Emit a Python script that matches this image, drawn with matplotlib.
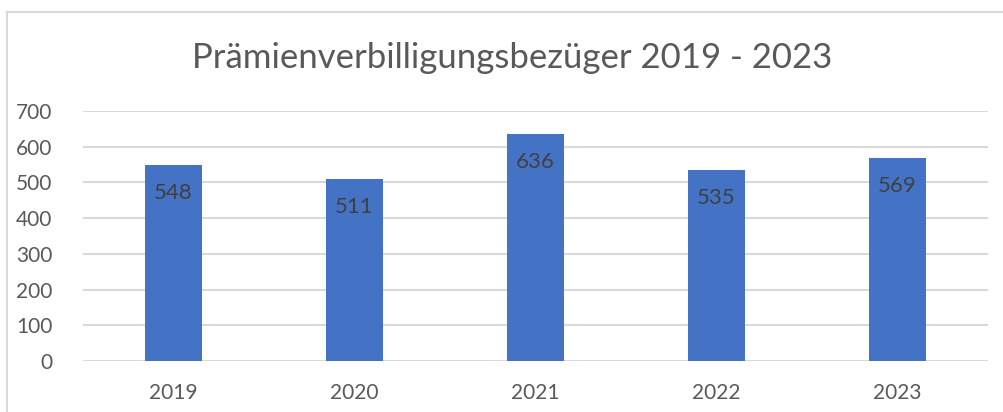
import matplotlib.pyplot as plt
from matplotlib.patches import Rectangle

years = ["2019", "2020", "2021", "2022", "2023"]
counts = [548, 511, 636, 535, 569]
y_ticks = [0, 100, 200, 300, 400, 500, 600, 700]

plt.rcParams['font.family'] = ['Lato', 'DejaVu Sans']

fig = plt.figure(figsize=(10.04, 4.12), dpi=100)
ax = fig.add_axes([83 / 1004, 1 - 361 / 412, 905 / 1004, 250 / 412])

bars = ax.bar(years, counts, width=0.315, color='#4472c4', zorder=3)
for b, v in zip(bars, counts):
    # value label just inside the top of each bar
    ax.annotate(str(v), (b.get_x() + b.get_width() / 2, v),
                xytext=(0, -28), textcoords='offset pixels',
                ha='center', va='center', fontsize=16, color='#404040', zorder=4)

ax.set_xlim(-0.5, len(years) - 0.5)
ax.set_ylim(0, 700)
ax.set_yticks(y_ticks)
ax.grid(axis='y', color='#d9d9d9', linewidth=1.5, zorder=0)
for s in ax.spines.values():
    s.set_visible(False)
ax.tick_params(length=0, labelsize=15, colors='#595959')
ax.tick_params(axis='y', pad=22)
ax.tick_params(axis='x', pad=16)

fig.text(0.51, 1 - 58 / 412, "Prämienverbilligungsbezüger 2019 - 2023",
         ha='center', va='center', fontsize=25, color='#595959')

# chart frame
fig.add_artist(Rectangle((7 / 1004, -0.1), 1.1, 1 - 12 / 412 + 0.1,
                         transform=fig.transFigure, fill=False,
                         edgecolor='#d9d9d9', linewidth=1.5))

fig.savefig('out.png', dpi=100)
